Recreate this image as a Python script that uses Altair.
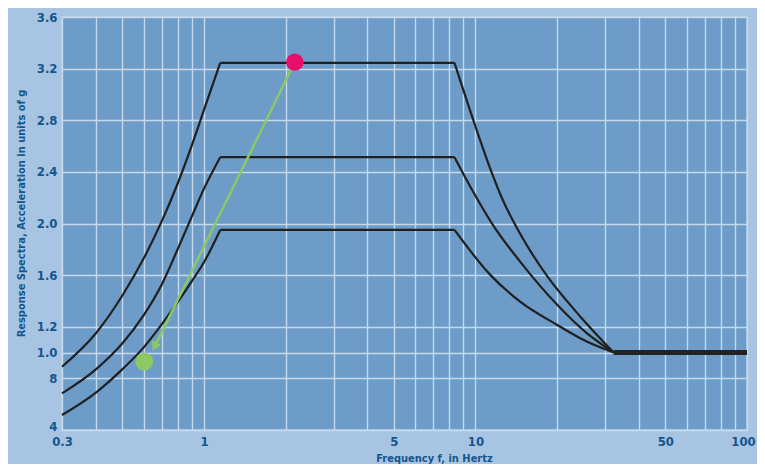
import altair as alt
import pandas as pd

# ---- data (frequency in Hz, acceleration in g) ----
top_rise_f = [0.3, 0.4, 0.5, 0.6, 0.7, 0.8, 0.9, 1.0, 1.148]
top_rise_a = [0.89, 1.15, 1.44, 1.73, 2.02, 2.31, 2.60, 2.88, 3.245]
mid_rise_f = [0.3, 0.4, 0.5, 0.6, 0.7, 0.8, 0.9, 1.0, 1.148]
mid_rise_a = [0.684, 0.87, 1.07, 1.29, 1.53, 1.80, 2.05, 2.27, 2.514]
bot_rise_f = [0.3, 0.4, 0.5, 0.6, 0.7, 0.8, 0.9, 1.0, 1.148]
bot_rise_a = [0.516, 0.69, 0.87, 1.04, 1.22, 1.39, 1.55, 1.70, 1.95]

plateau_f = [1.148, 8.37]
plateau_a = {"top": 3.245, "mid": 2.514, "bot": 1.95}

top_fall_f = [8.37, 9.86, 11.36, 12.5, 14.0, 16.0, 18.4, 24.3, 32.3]
top_fall_a = [3.245, 2.79, 2.42, 2.20, 1.99, 1.78, 1.59, 1.28, 1.0]
mid_fall_f = [8.37, 9.72, 11.7, 14.6, 20.0, 25.7, 32.3]
mid_fall_a = [2.514, 2.26, 1.976, 1.705, 1.37, 1.15, 1.0]
bot_fall_f = [8.37, 11.36, 14.6, 20.0, 25.7, 32.3]
bot_fall_a = [1.95, 1.60, 1.395, 1.214, 1.085, 1.0]

flat_f = [32.3, 100]
flat_a = [1.0, 1.0]

pink_pt = {"f": 2.16, "a": 3.25}
green_pt = {"f": 0.603, "a": 0.93}
arrow_head = {"f": 0.662, "a": 1.056}

x_grid_vals = [0.3, 0.4, 0.5, 0.6, 0.7, 0.8, 0.9, 1, 2, 3, 4, 5, 6, 7, 8, 9,
               10, 20, 30, 40, 50, 60, 70, 80, 90, 100]
x_label_vals = [0.3, 1, 5, 10, 50, 100]
x_label_text = ["0.3", "1", "5", "10", "50", "100"]
y_tick_vals = [0.4, 0.8, 1.0, 1.2, 1.6, 2.0, 2.4, 2.8, 3.2, 3.6]
y_tick_text = ["4", "8", "1.0", "1.2", "1.6", "2.0", "2.4", "2.8", "3.2", "3.6"]

# ---- tables ----
rows = []
for name, ff, aa in [("top", top_rise_f, top_rise_a), ("mid", mid_rise_f, mid_rise_a),
                     ("bot", bot_rise_f, bot_rise_a)]:
    for f, a in zip(ff, aa):
        rows.append({"f": f, "a": a, "seg": name + "_rise"})
for name, ff, aa in [("top", top_fall_f, top_fall_a), ("mid", mid_fall_f, mid_fall_a),
                     ("bot", bot_fall_f, bot_fall_a)]:
    for f, a in zip(ff, aa):
        rows.append({"f": f, "a": a, "seg": name + "_fall"})
curves = pd.DataFrame(rows)

plat_rows = []
for name, a in plateau_a.items():
    for f in plateau_f:
        plat_rows.append({"f": f, "a": a, "seg": name + "_plat"})
plateaus = pd.DataFrame(plat_rows)

flat = pd.DataFrame({"f": flat_f, "a": flat_a})
arrow_line = pd.DataFrame([pink_pt, arrow_head])
pink = pd.DataFrame([pink_pt])
green = pd.DataFrame([green_pt])
head = pd.DataFrame([arrow_head])


def label_expr(vals, texts):
    expr = "''"
    for v, t in zip(reversed(vals), reversed(texts)):
        expr = f"abs(datum.value - {v}) < 1e-6 ? '{t}' : ({expr})"
    return expr


FONT = "DejaVu Sans Condensed, Liberation Sans Narrow, sans-serif"
TXT = "#15558c"

x_enc = alt.X(
    "f:Q",
    scale=alt.Scale(type="log", domain=[0.3, 100], nice=False),
    axis=alt.Axis(
        values=x_grid_vals,
        labelExpr=label_expr(x_label_vals, x_label_text),
        labelOffset={"condition": {"test": "datum.value > 99", "value": -4}, "value": 0},
        title="Frequency f, in Hertz",
        titleX=372, titleY=22, titleAlign="center", titleBaseline="top",
    ),
)
y_enc = alt.Y(
    "a:Q",
    scale=alt.Scale(domain=[0.4, 3.6], nice=False, zero=False),
    axis=alt.Axis(
        values=y_tick_vals,
        labelExpr=label_expr(y_tick_vals, y_tick_text),
        labelBaseline={"condition": {"test": "datum.value < 0.5", "value": "alphabetic"},
                       "value": "middle"},
        title="Response Spectra, Acceleration in units of g",
        titleX=-41, titleY=196, titleAngle=270, titleAlign="center", titleBaseline="middle",
    ),
)

curve_layer = alt.Chart(curves).mark_line(
    color="#202020", strokeWidth=2.2, interpolate="monotone"
).encode(x=x_enc, y=y_enc, detail="seg:N")

plat_layer = alt.Chart(plateaus).mark_line(
    color="#202020", strokeWidth=2.2
).encode(x="f:Q", y="a:Q", detail="seg:N")

flat_layer = alt.Chart(flat).mark_line(
    color="#222222", strokeWidth=5
).encode(x="f:Q", y="a:Q")

arrow_layer = alt.Chart(arrow_line).mark_line(
    color="#8cc865", strokeWidth=2.5
).encode(x="f:Q", y="a:Q")

head_layer = alt.Chart(head).mark_point(
    shape="triangle", filled=True, color="#8cc865", opacity=1, size=110, angle=206
).encode(x="f:Q", y="a:Q")

pink_layer = alt.Chart(pink).mark_circle(
    color="#e80e6c", opacity=1, size=300
).encode(x="f:Q", y="a:Q")

green_layer = alt.Chart(green).mark_circle(
    color="#8cc865", opacity=1, size=320
).encode(x="f:Q", y="a:Q")

chart = alt.layer(
    curve_layer, plat_layer, flat_layer, arrow_layer, head_layer, pink_layer, green_layer
).properties(
    width=685,
    height=413,
    autosize="none",
    padding={"left": 54, "top": 9, "right": 10, "bottom": 34},
    background="#a7c5e2",
).configure_view(
    fill="#6c9cc7", stroke="#bcd2e8", strokeWidth=1.5
).configure_axis(
    grid=True, gridColor="#c6d9ec", gridWidth=1.4, gridOpacity=1,
    domain=False, ticks=False,
    labelFont=FONT, labelFontWeight="bold", labelFontSize=13, labelColor=TXT,
    labelOverlap=False, labelFlush=False, labelPadding=5,
    titleFont=FONT, titleFontWeight="bold", titleFontSize=11, titleColor=TXT,
)

chart.save("out.html", embed_options={"renderer": "svg", "actions": False})
